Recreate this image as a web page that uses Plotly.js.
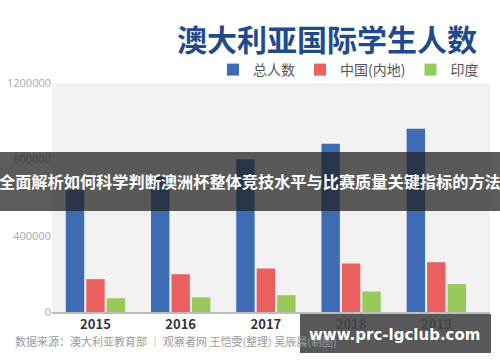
<!DOCTYPE html>
<html>
<head>
<meta charset="utf-8">
<script src="https://cdn.plot.ly/plotly-3.0.1.min.js"></script>
<style>html,body{margin:0;padding:0;background:#fff;}#chart{width:500px;height:362px;}</style>
</head>
<body>
<div id="chart"></div>
<script>
const years = ['2015', '2016', '2017', '2018', '2019'];
const seriesNames = ['总人数', '中国(内地)', '印度'];
const totalStudents = [640000, 710000, 800000, 882000, 960000];
const chinaStudents = [172000, 198000, 228000, 254000, 261000];
const indiaStudents = [72000, 77000, 88000, 107000, 146000];
const yTickVals = [0, 400000, 800000, 1200000];
const yTickText = ['0', '400000', '800000', '1200000'];
const chartTitle = '澳大利亚国际学生人数';
const sourceText = '数据来源：澳大利亚教育部 ｜ 观察者网 王恺雯(整理) 吴辰晨(制图)';
const bannerText = '全面解析如何科学判断澳洲杯整体竞技水平与比赛质量关键指标的方法';
const watermarkText = 'www.prc-lgclub.com';

const colors = ['#3d6cb5', '#e9605f', '#98c95b'];
const W = 500, H = 362;
const M = {l: 52, r: 10, t: 83, b: 50};
const PW = W - M.l - M.r, PH = H - M.t - M.b;
const px = x => (x - M.l) / PW;
const py = y => (H - M.b - y) / PH;

const cjk = '"Noto Sans CJK SC", "Noto Sans", sans-serif';

const traces = [totalStudents, chinaStudents, indiaStudents].map((vals, i) => ({
  type: 'bar',
  name: seriesNames[i],
  x: years,
  y: vals,
  marker: {color: colors[i]},
  hoverinfo: 'x+y+name'
}));

const layout = {
  width: W, height: H,
  margin: M,
  paper_bgcolor: '#ffffff',
  plot_bgcolor: '#f2f2f2',
  barmode: 'group',
  bargap: 0.28,
  bargroupgap: 0.1,
  font: {family: cjk},
  title: {
    text: '<b>' + chartTitle + '</b>',
    font: {family: cjk, size: 30, color: '#1f4b8d'},
    x: 477 / W, xanchor: 'right', xref: 'container',
    y: 1 - 40 / H, yanchor: 'middle', yref: 'container'
  },
  showlegend: true,
  legend: {
    orientation: 'h',
    x: px(484), xanchor: 'right',
    y: py(70), yanchor: 'middle',
    font: {family: cjk, size: 14, color: '#555555'},
    bgcolor: 'rgba(0,0,0,0)',
    traceorder: 'normal'
  },
  xaxis: {
    type: 'category',
    range: [-0.51, 4.63],
    showgrid: false,
    showline: true, linecolor: '#bdbdbd', linewidth: 1.5,
    ticks: '',
    tickfont: {family: cjk, size: 13, color: '#333333', weight: 'bold'},
    fixedrange: true
  },
  yaxis: {
    range: [0, 1200000],
    tickvals: yTickVals, ticktext: yTickText,
    showgrid: false, zeroline: false,
    showline: false, ticks: '',
    tickfont: {family: '"Open Sans", sans-serif', size: 11, color: '#a8a8a8'},
    fixedrange: true
  },
  shapes: [
    {type: 'rect', xref: 'paper', yref: 'paper', layer: 'above',
     x0: px(0), x1: px(500), y0: py(211), y1: py(152),
     fillcolor: 'rgba(35,35,35,0.74)', line: {width: 0}},
    {type: 'rect', xref: 'paper', yref: 'paper', layer: 'above',
     x0: px(300), x1: px(491), y0: py(353), y1: py(314),
     fillcolor: 'rgba(70,70,70,0.9)', line: {width: 0}}
  ],
  annotations: [
    {text: sourceText, xref: 'paper', yref: 'paper', x: px(13), y: py(341),
     xanchor: 'left', yanchor: 'middle', showarrow: false,
     font: {family: cjk, size: 11, color: '#9a9a9a'}},
    {text: '<b>' + bannerText + '</b>', xref: 'paper', yref: 'paper', x: px(250), y: py(181),
     xanchor: 'center', yanchor: 'middle', showarrow: false,
     font: {family: cjk, size: 16.2, color: '#ffffff'}},
    {text: '<b>' + watermarkText + '</b>', xref: 'paper', yref: 'paper', x: px(394), y: py(335),
     xanchor: 'center', yanchor: 'middle', showarrow: false,
     font: {family: '"DejaVu Sans", sans-serif', size: 15, color: '#ffffff'}}
  ]
};

Plotly.newPlot('chart', traces, layout, {displayModeBar: false, staticPlot: true});
</script>
</body>
</html>
